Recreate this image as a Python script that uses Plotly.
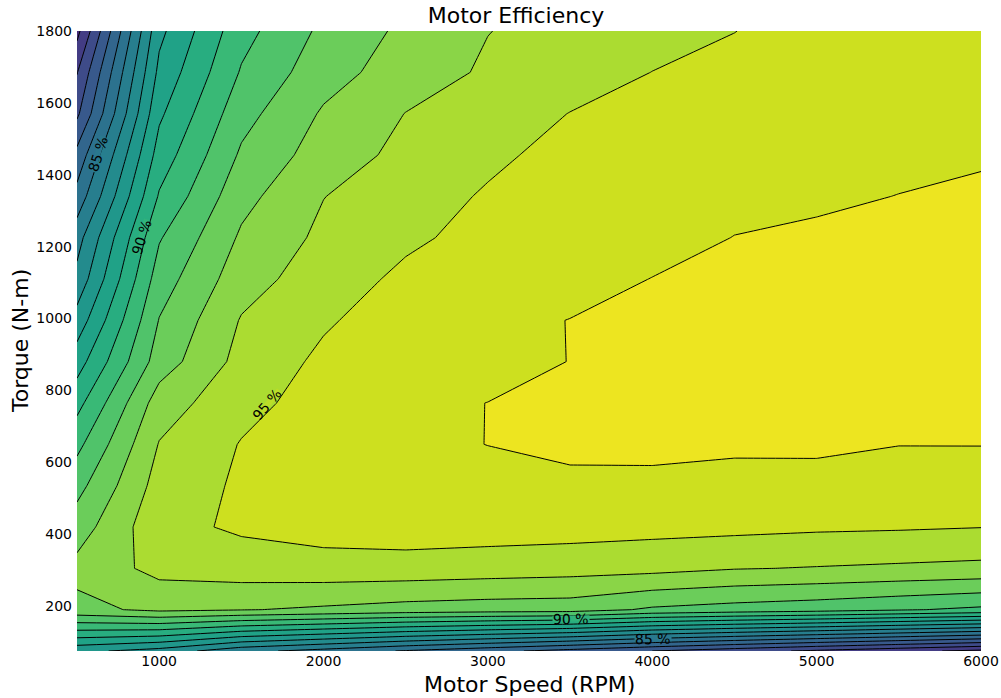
import plotly.graph_objects as go

# ---------------- data ----------------
speed_rpm = [500, 1000, 1500, 2000, 2500, 3000, 3500, 4000, 4500, 5000, 5500, 6000]
torque_nm = [75, 190, 305, 420, 535, 650, 765, 880, 995, 1110, 1225, 1340, 1455, 1570, 1685, 1800]

# efficiency (%) per torque row, one value per speed column
eff_t75 = [87.25, 86.6, 85.3, 84.63, 83.91, 83.28, 82.64, 82.0, 81.4, 80.82, 80.28, 79.75]
eff_t190 = [92.72, 93.22, 93.05, 92.85, 92.62, 92.5, 92.45, 91.85, 91.6, 91.4, 91.1, 90.8]
eff_t305 = [93.3, 94.3, 94.5, 94.6, 94.6, 94.5, 94.4, 94.3, 94.05, 93.95, 93.85, 93.75]
eff_t420 = [92.5, 94.7, 95.15, 95.4, 95.5, 95.45, 95.4, 95.3, 95.25, 95.15, 95.1, 95.02]
eff_t535 = [91.67, 94.4, 95.15, 95.45, 95.6, 95.7, 95.7, 95.62, 95.4, 95.42, 95.5, 95.55]
eff_t650 = [90.73, 94.05, 95.05, 95.6, 95.8, 96.01, 96.3, 96.4, 96.3, 96.3, 96.02, 96.02]
eff_t765 = [89.67, 93.5, 94.7, 95.4, 95.75, 96.01, 96.4, 96.5, 96.5, 96.5, 96.4, 96.4]
eff_t880 = [88.55, 92.48, 94.33, 95.2, 95.6, 95.6, 96.02, 96.4, 96.5, 96.6, 96.5, 96.5]
eff_t995 = [87.4, 92.04, 94.07, 94.88, 95.5, 95.7, 96.02, 96.3, 96.4, 96.5, 96.5, 96.5]
eff_t1110 = [86.3, 91.5, 93.57, 94.53, 95.2, 95.6, 95.6, 96.02, 96.3, 96.4, 96.4, 96.5]
eff_t1225 = [85.6, 90.91, 93.15, 94.22, 94.83, 95.3, 95.4, 95.6, 96.02, 96.2, 96.3, 96.4]
eff_t1340 = [84.35, 90.1, 92.68, 93.98, 94.56, 95.1, 95.5, 95.6, 95.7, 95.8, 96.02, 96.3]
eff_t1455 = [83.3, 89.43, 92.15, 93.47, 94.27, 94.81, 95.3, 95.45, 95.55, 95.65, 95.7, 95.8]
eff_t1570 = [81.8, 88.82, 91.64, 93.12, 94.02, 94.5, 95.02, 95.25, 95.4, 95.5, 95.6, 95.7]
eff_t1685 = [80.95, 88.25, 91.09, 92.59, 93.49, 94.14, 94.57, 95.01, 95.2, 95.35, 95.55, 95.7]
eff_t1800 = [79.7, 87.75, 90.65, 92.22, 93.22, 93.98, 94.33, 94.66, 94.99, 95.3, 95.5, 95.7]

efficiency_pct = [eff_t75, eff_t190, eff_t305, eff_t420, eff_t535, eff_t650, eff_t765,
                  eff_t880, eff_t995, eff_t1110, eff_t1225, eff_t1340, eff_t1455,
                  eff_t1570, eff_t1685, eff_t1800]

level_start, level_end, level_step = 79, 96, 1

x_ticks = [1000, 2000, 3000, 4000, 5000, 6000]
y_ticks = [200, 400, 600, 800, 1000, 1200, 1400, 1600, 1800]

# inline contour labels
label_text = ["85 %", "90 %", "95 %", "90 %", "85 %"]
label_level = [85, 90, 95, 90, 85]
label_speed = [628, 892, 1658, 3503, 4005]
label_torque = [1458, 1228, 762, 165, 109]
label_angle = [-73, -72, -50, -1, -1]

# ---------------- colours ----------------
viridis_stops = [
    (0.0, "#440154"), (0.0627, "#48186a"), (0.1255, "#472d7b"), (0.1882, "#424086"),
    (0.2510, "#3b528b"), (0.3137, "#33638d"), (0.3765, "#2c728e"), (0.4392, "#26828e"),
    (0.5020, "#21918c"), (0.5647, "#1fa088"), (0.6275, "#28ae80"), (0.6902, "#3fbc73"),
    (0.7529, "#5ec962"), (0.8157, "#84d44b"), (0.8784, "#addc30"), (0.9412, "#d8e219"),
    (1.0, "#fde725"),
]


def _hex(c):
    c = c.lstrip("#")
    return [int(c[i:i + 2], 16) for i in (0, 2, 4)]


def viridis(v):
    v = min(max(v, 0.0), 1.0)
    for (p0, c0), (p1, c1) in zip(viridis_stops[:-1], viridis_stops[1:]):
        if v <= p1:
            t = (v - p0) / (p1 - p0) if p1 > p0 else 0
            a, b = _hex(c0), _hex(c1)
            r = [round(a[k] + (b[k] - a[k]) * t) for k in range(3)]
            return "rgb({},{},{})".format(*r)
    return viridis_stops[-1][1]


n_levels = int(round((level_end - level_start) / level_step)) + 1
n_bands = n_levels + 1
colorscale = [[j / (n_bands - 1), viridis(0.075 + 0.05 * j)] for j in range(n_bands)]

# ---------------- figure ----------------
fig = go.Figure(
    go.Contour(
        x=speed_rpm,
        y=torque_nm,
        z=efficiency_pct,
        colorscale=colorscale,
        showscale=False,
        autocontour=False,
        contours=dict(start=level_start, end=level_end, size=level_step,
                      coloring="fill", showlabels=False),
        line=dict(color="black", width=1, smoothing=0),
        hoverinfo="skip",
    )
)

font_family = "DejaVu Sans"
annotations = []
for txt, lev, xs, ys, ang in zip(label_text, label_level, label_speed, label_torque, label_angle):
    # gap in the contour line under the label
    annotations.append(dict(
        x=xs, y=ys, xref="x", yref="y", text=" ", showarrow=False,
        textangle=ang, width=36, height=5, borderpad=0,
        bgcolor=viridis(0.05 * (lev - 77)),
        font=dict(size=4),
    ))
    annotations.append(dict(
        x=xs, y=ys, xref="x", yref="y", text=txt, showarrow=False,
        textangle=ang, font=dict(family=font_family, size=14, color="black"),
    ))

# axis titles
annotations.append(dict(
    x=0.5, y=0, xref="paper", yref="paper", text="Motor Speed (RPM)",
    showarrow=False, yanchor="middle", xanchor="center", yshift=-33,
    font=dict(family=font_family, size=22, color="black"),
))
annotations.append(dict(
    x=0, y=0.5, xref="paper", yref="paper", text="Torque (N-m)",
    showarrow=False, yanchor="middle", xanchor="center", xshift=-57,
    textangle=-90, font=dict(family=font_family, size=22, color="black"),
))

fig.update_layout(
    width=1001,
    height=698,
    autosize=False,
    margin=dict(l=77, r=20, t=31, b=47, autoexpand=False),
    paper_bgcolor="white",
    plot_bgcolor="white",
    font=dict(family=font_family, color="black"),
    title=dict(text="Motor Efficiency", x=516 / 1001, xref="container", xanchor="center",
               y=1 - 15 / 698, yref="container", yanchor="middle",
               font=dict(family=font_family, size=22, color="black")),
    xaxis=dict(range=[speed_rpm[0], speed_rpm[-1]], tickvals=x_ticks,
               ticktext=[str(v) for v in x_ticks], showgrid=False, zeroline=False,
               showline=False, ticks="", automargin=False,
               tickfont=dict(size=14, color="black")),
    yaxis=dict(range=[torque_nm[0], torque_nm[-1]], tickvals=y_ticks,
               ticktext=[str(v) for v in y_ticks], showgrid=False, zeroline=False,
               showline=False, ticks="", automargin=False,
               tickfont=dict(size=14, color="black"), ticklabelstandoff=4),
    annotations=annotations,
    showlegend=False,
)

fig.write_html("out.html")
